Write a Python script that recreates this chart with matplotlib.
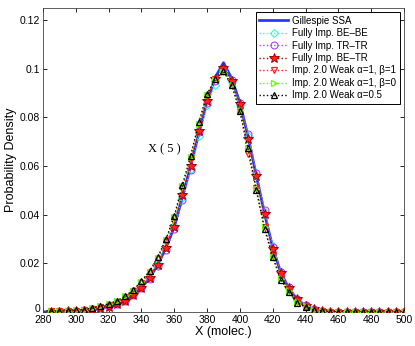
import matplotlib.pyplot as plt
import numpy as np

# x grid (molecules), markers start at 285
x = np.arange(280, 505, 5)

gillespie = [0.0, 0.0001, 0.0002, 0.0003, 0.0004, 0.0006, 0.0010, 0.0015, 0.0022,
             0.0032, 0.0048, 0.0070, 0.0100, 0.0140, 0.0195, 0.0265, 0.0350, 0.0475,
             0.0600, 0.0735, 0.0865, 0.0965, 0.1025, 0.0960, 0.0860, 0.0720, 0.0560,
             0.0405, 0.0265, 0.0160, 0.0095, 0.0050, 0.0025, 0.0011, 0.0005, 0.0002,
             0.0001, 0.0, 0.0, 0.0, 0.0, 0.0, 0.0, 0.0, 0.0]

be_be = [0.0, 0.0002, 0.0003, 0.0004, 0.0005, 0.0008, 0.0012, 0.0018, 0.0025,
         0.0035, 0.0050, 0.0072, 0.0103, 0.0143, 0.0198, 0.0268, 0.0355, 0.0470,
         0.0590, 0.0725, 0.0850, 0.0935, 0.0990, 0.0945, 0.0850, 0.0725, 0.0565,
         0.0410, 0.0270, 0.0165, 0.0100, 0.0052, 0.0028, 0.0013, 0.0006, 0.0002,
         0.0001, 0.0, 0.0, 0.0, 0.0, 0.0, 0.0, 0.0, 0.0]

tr_tr = [0.0, 0.0002, 0.0002, 0.0003, 0.0004, 0.0007, 0.0011, 0.0016, 0.0023,
         0.0033, 0.0047, 0.0068, 0.0098, 0.0137, 0.0190, 0.0255, 0.0340, 0.0460,
         0.0585, 0.0739, 0.0860, 0.0950, 0.1000, 0.0955, 0.0860, 0.0732, 0.0570,
         0.0420, 0.0268, 0.0165, 0.0101, 0.0055, 0.0029, 0.0013, 0.0006, 0.0002,
         0.0001, 0.0, 0.0, 0.0, 0.0, 0.0, 0.0, 0.0, 0.0]

be_tr = [0.0, 0.0001, 0.0002, 0.0003, 0.0004, 0.0006, 0.0010, 0.0015, 0.0022,
         0.0032, 0.0047, 0.0070, 0.0100, 0.0140, 0.0195, 0.0262, 0.0350, 0.0480,
         0.0602, 0.0745, 0.0869, 0.0960, 0.1005, 0.0951, 0.0855, 0.0712, 0.0560,
         0.0404, 0.0261, 0.0161, 0.0098, 0.0052, 0.0026, 0.0012, 0.0005, 0.0002,
         0.0001, 0.0, 0.0, 0.0, 0.0, 0.0, 0.0, 0.0, 0.0]

weak_b1 = [0.0, 0.0003, 0.0004, 0.0005, 0.0006, 0.0009, 0.0014, 0.0021, 0.0030,
           0.0042, 0.0060, 0.0085, 0.0120, 0.0160, 0.0218, 0.0290, 0.0385, 0.0510,
           0.0630, 0.0770, 0.0890, 0.0960, 0.0995, 0.0935, 0.0830, 0.0650, 0.0510,
           0.0350, 0.0232, 0.0138, 0.0088, 0.0042, 0.0024, 0.0010, 0.0005, 0.0002,
           0.0001, 0.0, 0.0, 0.0, 0.0, 0.0, 0.0, 0.0, 0.0]

weak_b0 = [0.0, 0.0003, 0.0004, 0.0005, 0.0007, 0.0010, 0.0015, 0.0023, 0.0032,
           0.0045, 0.0064, 0.0088, 0.0125, 0.0165, 0.0224, 0.0296, 0.0390, 0.0518,
           0.0638, 0.0775, 0.0893, 0.0955, 0.0988, 0.0935, 0.0828, 0.0675, 0.0505,
           0.0348, 0.0228, 0.0135, 0.0085, 0.0040, 0.0023, 0.0009, 0.0005, 0.0002,
           0.0001, 0.0, 0.0, 0.0, 0.0, 0.0, 0.0, 0.0, 0.0]

weak_a05 = [0.0, 0.0003, 0.0004, 0.0005, 0.0007, 0.0010, 0.0016, 0.0024, 0.0033,
            0.0046, 0.0065, 0.0090, 0.0128, 0.0168, 0.0227, 0.0300, 0.0395, 0.0523,
            0.0643, 0.0780, 0.0896, 0.0958, 0.0990, 0.0933, 0.0825, 0.0673, 0.0500,
            0.0343, 0.0225, 0.0131, 0.0083, 0.0038, 0.0022, 0.0009, 0.0005, 0.0002,
            0.0001, 0.0, 0.0, 0.0, 0.0, 0.0, 0.0, 0.0, 0.0]

plt.rcParams['font.family'] = ['Liberation Sans', 'DejaVu Sans']

fig = plt.figure(figsize=(4.15, 3.46), dpi=100)
ax = fig.add_axes([0.1036, 0.0983, 0.8699, 0.8786])

m = slice(1, None)
ax.plot(x, gillespie, color='#1f3dff', lw=2, label='Gillespie SSA', zorder=2)
ax.plot(x[m], be_be[1:], ':', color='#30ffd0', marker='D', ms=4, mfc='none', mew=0.8,
        lw=1, label='Fully Imp. BE\u2013BE', zorder=3)
ax.plot(x[m], tr_tr[1:], ':', color='#b040ff', marker='o', ms=5, mfc='none', mew=0.8,
        lw=1, label='Fully Imp. TR\u2013TR', zorder=3)
ax.plot(x[m], be_tr[1:], ':', color='#b00000', marker='*', ms=7, mfc='#ff2020', mew=0.7,
        lw=1, label='Fully Imp. BE\u2013TR', zorder=4)
ax.plot(x[m], weak_b1[1:], ':', color='#ff2020', marker='v', ms=5, mfc='none', mew=0.9,
        lw=1, label='Imp. 2.0 Weak \u03b1=1, \u03b2=1', zorder=4)
ax.plot(x[m], weak_b0[1:], ':', color='#66ff00', marker='>', ms=5, mfc='none', mew=0.9,
        lw=1, label='Imp. 2.0 Weak \u03b1=1, \u03b2=0', zorder=4)
ax.plot(x[m], weak_a05[1:], ':', color='black', marker='^', ms=5, mfc='none', mew=0.9,
        lw=1, label='Imp. 2.0 Weak \u03b1=0.5', zorder=5)

ax.text(344, 0.0668, 'X ( 5 )', fontsize=9, family=['Liberation Serif', 'DejaVu Serif'],
        va='center', ha='left')

ax.set_xlim(280, 500)
ax.set_ylim(0, 0.125)
ax.set_xticks(np.arange(280, 501, 20))
ax.set_yticks([0, 0.02, 0.04, 0.06, 0.08, 0.1, 0.12])
ax.set_yticklabels(['0', '0.02', '0.04', '0.06', '0.08', '0.1', '0.12'])
ax.tick_params(direction='in', top=True, right=True, labelsize=7.5, length=3,
               width=0.6, pad=2)
ax.get_yticklabels()[0].set_va('baseline')
for s in ax.spines.values():
    s.set_linewidth(0.6)
    s.set_color('#444444')

ax.set_xlabel('X (molec.)', fontsize=9, labelpad=1)
ax.set_ylabel('Probability Density', fontsize=9)
ax.yaxis.set_label_coords(-0.072, 0.5)

leg = ax.legend(loc='upper right', fontsize=7, fancybox=False, framealpha=1,
                edgecolor='black', handlelength=3.0, borderpad=0.35,
                labelspacing=0.25, handletextpad=0.4, borderaxespad=0.45)
leg.get_frame().set_linewidth(0.7)

fig.savefig('out.png', dpi=100)
